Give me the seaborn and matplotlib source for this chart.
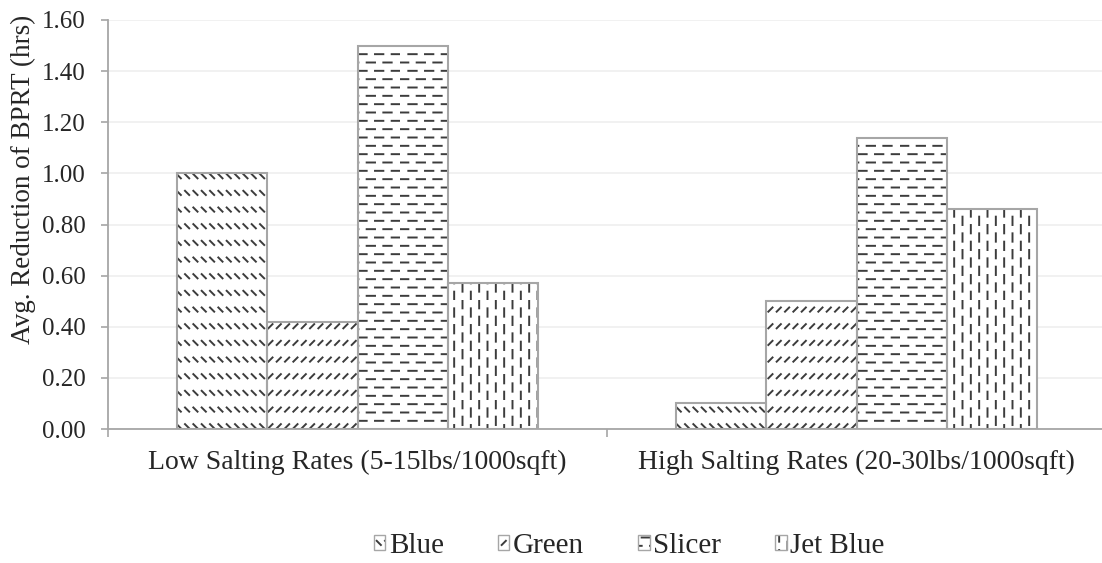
import matplotlib
matplotlib.use("Agg")
import numpy as np
import matplotlib.pyplot as plt
import matplotlib.hatch as mhatch
import matplotlib.patches as mpatches
from matplotlib.path import Path
from matplotlib.ticker import FixedLocator
import seaborn as sns
import pandas as pd

categories = ["Low Salting Rates (5-15lbs/1000sqft)", "High Salting Rates (20-30lbs/1000sqft)"]
series = ["Blue", "Green", "Slicer", "Jet Blue"]
blue = [1.00, 0.10]
green = [0.42, 0.50]
slicer = [1.50, 1.14]
jet_blue = [0.57, 0.86]
y_ticks = [0.0, 0.2, 0.4, 0.6, 0.8, 1.0, 1.2, 1.4, 1.6]

# Excel-like dashed pattern fills: dashed down-diagonal, dashed up-diagonal,
# dashed horizontal, dashed vertical
hatches = ["\\", "/", "-", "|"]
HATCH_DARK = "#3c3c3c"
EDGE_GRAY = "#a6a6a6"


class _DashDiag(mhatch.HatchPatternBase):
    char = "/"
    up = True

    def __init__(self, hatch, density):
        self.rows = 6 if self.char in hatch else 0
        self.cols = 12
        self.num_vertices = self.rows * self.cols * 2

    def set_vertices_and_codes(self, vertices, codes):
        d = 0.042
        k = 0
        for r in range(self.rows):
            y = (r + 0.3) / self.rows
            for c in range(self.cols):
                x = (c + 0.2) / self.cols
                if self.up:
                    vertices[k] = (x, y)
                    vertices[k + 1] = (x + d, y + d)
                else:
                    vertices[k] = (x, y + d)
                    vertices[k + 1] = (x + d, y)
                codes[k] = Path.MOVETO
                codes[k + 1] = Path.LINETO
                k += 2


class DashUp(_DashDiag):
    char = "/"
    up = True


class DashDown(_DashDiag):
    char = "\\"
    up = False


class _DashStraight(mhatch.HatchPatternBase):
    char = "-"
    horizontal = True

    def __init__(self, hatch, density):
        self.lines = 12 if self.char in hatch else 0
        self.per = 6
        self.num_vertices = self.lines * self.per * 2

    def set_vertices_and_codes(self, vertices, codes):
        k = 0
        seg = 0.5 / self.per
        for r in range(self.lines):
            a = (r + 0.5) / self.lines
            off = 0.0 if r % 2 == 0 else 0.5 / self.per
            for c in range(self.per):
                b0 = c / self.per + off
                b1 = b0 + seg
                if self.horizontal:
                    vertices[k] = (b0, a)
                    vertices[k + 1] = (b1, a)
                else:
                    vertices[k] = (a, b0)
                    vertices[k + 1] = (a, b1)
                codes[k] = Path.MOVETO
                codes[k + 1] = Path.LINETO
                k += 2


class DashH(_DashStraight):
    char = "-"
    horizontal = True


class DashV(_DashStraight):
    char = "|"
    horizontal = False


mhatch._hatch_types = [DashDown, DashUp, DashH, DashV]

rows = []
for name, vals in zip(series, [blue, green, slicer, jet_blue]):
    for c, v in zip(categories, vals):
        rows.append({"cat": c, "series": name, "val": v})
df = pd.DataFrame(rows)

sns.set_theme(style="white")
plt.rcParams["font.family"] = ["Liberation Serif", "DejaVu Serif"]
plt.rcParams["hatch.linewidth"] = 1.4

fig = plt.figure(figsize=(11.02, 5.63), dpi=100)
ax = fig.add_axes([108 / 1102, 1 - 429 / 563, 998 / 1102, 409 / 563])

# hatched fills
sns.barplot(data=df, x="cat", y="val", hue="series", order=categories,
            hue_order=series, palette=["white"] * 4, width=0.725,
            saturation=1, edgecolor=HATCH_DARK, linewidth=0, ax=ax,
            legend=False)
n_cat = len(categories)
for i, p in enumerate(list(ax.patches)):
    p.set_hatch(hatches[i // n_cat])
    p.set_edgecolor(HATCH_DARK)
    p.set_linewidth(0)

# gray outlines
sns.barplot(data=df, x="cat", y="val", hue="series", order=categories,
            hue_order=series, palette=[EDGE_GRAY] * 4, width=0.725,
            saturation=1, fill=False, linewidth=1.5, ax=ax, legend=False)

ax.set_ylim(0, 1.6)
ax.set_xlim(-0.5, n_cat - 0.5)
ax.set_yticks(y_ticks)
ax.set_yticklabels([f"{t:.2f}" for t in y_ticks], fontsize=18)
ax.yaxis.grid(True, color="#efefef", linewidth=1.2)
ax.set_axisbelow(True)
ax.set_xlabel("")
ax.set_ylabel("Avg. Reduction of BPRT (hrs)", fontsize=19.5)
ax.yaxis.set_label_coords(-0.072, 0.61)
ax.tick_params(axis="x", labelsize=20, length=0, pad=15)
ax.xaxis.set_minor_locator(FixedLocator([-0.5, 0.5, 1.5]))
ax.tick_params(axis="x", which="minor", length=6, color=EDGE_GRAY, width=1.2,
               direction="out", bottom=True)
ax.tick_params(axis="y", length=5, color=EDGE_GRAY, width=1.2, direction="out",
               left=True, pad=11)
for s in ["top", "right"]:
    ax.spines[s].set_visible(False)
for s in ["left", "bottom"]:
    ax.spines[s].set_color(EDGE_GRAY)
    ax.spines[s].set_linewidth(1.3)

handles = []
for h in hatches:
    fillp = mpatches.Patch(facecolor="white", edgecolor=HATCH_DARK, linewidth=0, hatch=h)
    outl = mpatches.Patch(facecolor="none", edgecolor=EDGE_GRAY, linewidth=1.0)
    handles.append((fillp, outl))
fig.legend(handles, series, loc="center", bbox_to_anchor=(629 / 1102, 1 - 546 / 563),
           ncol=4, frameon=False, fontsize=21, handlelength=0.4, handleheight=0.45,
           columnspacing=1.85, handletextpad=0.12)

fig.savefig("out.png", dpi=100)
